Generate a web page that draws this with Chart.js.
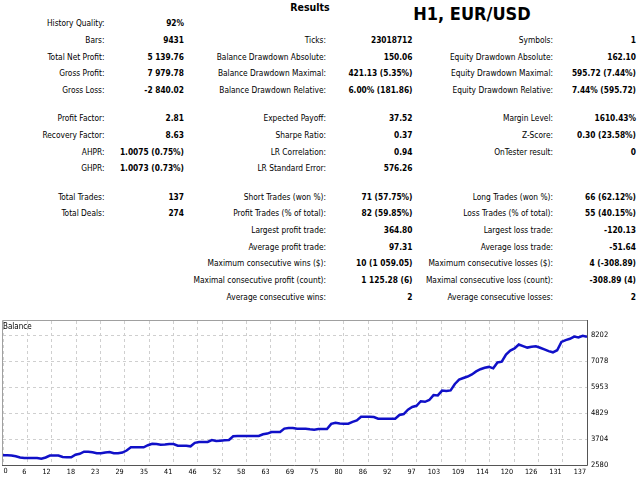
<!DOCTYPE html>
<html><head><meta charset="utf-8">
<script src="https://cdn.jsdelivr.net/npm/chart.js@4.4.1/dist/chart.umd.min.js"></script>
<style>
html,body{margin:0;padding:0;background:#fff;width:640px;height:480px;overflow:hidden;}
.t{position:absolute;white-space:nowrap;font-family:"DejaVu Sans Condensed","DejaVu Sans",sans-serif;font-stretch:condensed;font-size:8.3px;line-height:10px;height:10px;color:#000;text-align:right;}
.v{font-weight:bold;}
#title{position:absolute;left:250px;width:120px;top:1px;text-align:center;font-family:"DejaVu Sans Condensed","DejaVu Sans",sans-serif;font-stretch:condensed;font-weight:bold;font-size:10.5px;line-height:12px;}
#sym{position:absolute;left:410px;width:124px;top:3px;text-align:center;font-family:"DejaVu Sans Condensed","DejaVu Sans",sans-serif;font-stretch:condensed;font-weight:bold;font-size:18px;line-height:22px;}
#wrap{position:absolute;left:0;top:312px;width:640px;height:168px;}
#bal{position:absolute;left:3px;top:322px;font-family:"DejaVu Sans Condensed","DejaVu Sans",sans-serif;font-stretch:condensed;font-size:8px;line-height:10px;}
</style></head><body>
<div id="title">Results</div>
<div id="sym">H1, EUR/USD</div>
<div id="report"></div>
<div id="wrap"><canvas id="c" width="640" height="168"></canvas></div>
<div id="bal">Balance</div>
<script>
// ---- report table ----
const col1Labels = ['History Quality:','Bars:','Total Net Profit:','Gross Profit:','Gross Loss:','Profit Factor:','Recovery Factor:','AHPR:','GHPR:','Total Trades:','Total Deals:','','','','',''];
const col1Values = ['92%','9431','5 139.76','7 979.78','-2 840.02','2.81','8.63','1.0075 (0.75%)','1.0073 (0.73%)','137','274','','','','',''];
const col2Labels = ['','Ticks:','Balance Drawdown Absolute:','Balance Drawdown Maximal:','Balance Drawdown Relative:','Expected Payoff:','Sharpe Ratio:','LR Correlation:','LR Standard Error:','Short Trades (won %):','Profit Trades (% of total):','Largest profit trade:','Average profit trade:','Maximum consecutive wins ($):','Maximal consecutive profit (count):','Average consecutive wins:'];
const col2Values = ['','23018712','150.06','421.13 (5.35%)','6.00% (181.86)','37.52','0.37','0.94','576.26','71 (57.75%)','82 (59.85%)','364.80','97.31','10 (1 059.05)','1 125.28 (6)','2'];
const col3Labels = ['','Symbols:','Equity Drawdown Absolute:','Equity Drawdown Maximal:','Equity Drawdown Relative:','Margin Level:','Z-Score:','OnTester result:','','Long Trades (won %):','Loss Trades (% of total):','Largest loss trade:','Average loss trade:','Maximum consecutive losses ($):','Maximal consecutive loss (count):','Average consecutive losses:'];
const col3Values = ['','1','162.10','595.72 (7.44%)','7.44% (595.72)','1610.43%','0.30 (23.58%)','0','','66 (62.12%)','55 (40.15%)','-120.13','-51.64','4 (-308.89)','-308.89 (4)','2'];

// ---- balance chart ----
const balance = [3000,3000,2996,2957,2905,2883,2883,2883,2883,2848,
2905,2991,2991,2991,2926,2913,2913,3026,3065,3156,
3156,3130,3091,3087,3121,3139,3087,3087,3121,3208,
3347,3347,3347,3347,3438,3503,3490,3460,3464,3490,
3490,3416,3416,3416,3390,3542,3577,3577,3577,3663,
3620,3633,3650,3663,3824,3837,3837,3837,3837,3837,
3837,3910,3941,4010,4010,4010,4157,4183,4183,4153,
4153,4153,4127,4110,4140,4140,4140,4361,4413,4379,
4370,4370,4448,4513,4673,4673,4673,4660,4587,4587,
4587,4587,4587,4747,4790,4981,5094,5146,5345,5319,
5397,5610,5597,5805,5787,5813,6091,6282,6351,6416,
6507,6637,6733,6793,6832,6771,7027,7058,7370,7539,
7634,7803,7734,7669,7703,7725,7664,7591,7517,7465,
7556,7913,7996,8050,8146,8107,8181,8140];
const xTickLabels = ['0','6','12','18','23','29','35','41','46','52','58','63','69','75','80','86','92','97','103','109','114','120','126','131','137'];
const yTickLabels = ['2580','3704','4829','5953','7078','8202'];
const yTickValues = [2580,3704.4,4828.8,5953.2,7077.6,8202];
const xMax = 137;
const yMin = 2580, yMax = 8822;

// layout of report
const rowY = [23.3,40,56.7,73.3,90,118.3,135,151.7,168.3,196.7,213.3,230,246.7,263.3,280,296.7];
const cols = [
  {labels:col1Labels, values:col1Values, lr:104.5, vr:184},
  {labels:col2Labels, values:col2Values, lr:326, vr:412.5},
  {labels:col3Labels, values:col3Values, lr:553, vr:636}
];
const rep = document.getElementById('report');
cols.forEach(c=>{
  c.labels.forEach((txt,i)=>{
    if(txt){
      const d=document.createElement('div'); d.className='t';
      d.style.right=(640-c.lr)+'px'; d.style.top=(rowY[i]-5)+'px'; d.textContent=txt; rep.appendChild(d);
    }
    const val=c.values[i];
    if(val){
      const d=document.createElement('div'); d.className='t v';
      d.style.right=(640-c.vr)+'px'; d.style.top=(rowY[i]-5)+'px'; d.textContent=val; rep.appendChild(d);
    }
  });
});

const FONT = "'DejaVu Sans Condensed','DejaVu Sans',sans-serif";
const framePlugin = {
  id:'frame',
  afterDraw(chart){
    const {ctx, chartArea:a, scales} = chart;
    ctx.save();
    ctx.lineWidth=1;
    ctx.strokeStyle='#a0a0a0';
    ctx.beginPath();
    ctx.moveTo(a.left-0.5, a.bottom); ctx.lineTo(a.left-0.5, a.top-0.5); ctx.lineTo(a.right, a.top-0.5);
    ctx.stroke();
    ctx.strokeStyle='#555';
    ctx.beginPath();
    ctx.moveTo(a.left-1, a.bottom+0.5); ctx.lineTo(a.right+0.5, a.bottom+0.5); ctx.lineTo(a.right+0.5, a.top-1);
    ctx.stroke();
    // first x label, left-aligned at the axis start
    ctx.fillStyle='#000';
    ctx.font="7.2px "+FONT;
    ctx.textAlign='left'; ctx.textBaseline='top';
    ctx.fillText(xTickLabels[0], scales.x.getPixelForValue(0)+0.5, a.bottom+3);
    ctx.restore();
  }
};

new Chart(document.getElementById('c'), {
  type:'line',
  data:{datasets:[{
    data: balance.map((v,i)=>({x:i,y:v})),
    borderColor:'#1010c8', borderWidth:2.5, pointRadius:0, tension:0, fill:false
  }]},
  options:{
    responsive:false, animation:false,
    layout:{padding:{left:2,top:9,right:0,bottom:0}},
    plugins:{legend:{display:false},tooltip:{enabled:false},title:{display:false}},
    scales:{
      x:{type:'linear',min:0,max:xMax,
        afterBuildTicks:s=>{s.ticks=xTickLabels.map((l,k)=>({value:k*xMax/(xTickLabels.length-1)}));},
        afterFit:s=>{s.height=15;},
        grid:{color:'#cfcfcf',lineWidth:1,drawTicks:false},
        border:{display:false,dash:[3,3]},
        ticks:{autoSkip:false,maxRotation:0,minRotation:0,align:'end',padding:3,labelOffset:-1,color:'#000',
          font:{family:FONT,size:7.2},
          callback:(v,k)=> k===0 ? '' : xTickLabels[k]}
      },
      y:{type:'linear',position:'right',min:yMin,max:yMax,
        afterBuildTicks:s=>{s.ticks=yTickValues.map(v=>({value:v}));},
        afterFit:s=>{s.width=53;},
        grid:{color:'#cfcfcf',lineWidth:1,drawTicks:false},
        border:{display:false,dash:[3,3]},
        ticks:{padding:4,color:'#000',font:{family:FONT,size:7.5},
          callback:(v,k)=> yTickLabels[k]}
      }
    }
  },
  plugins:[framePlugin]
});
</script>
</body></html>
